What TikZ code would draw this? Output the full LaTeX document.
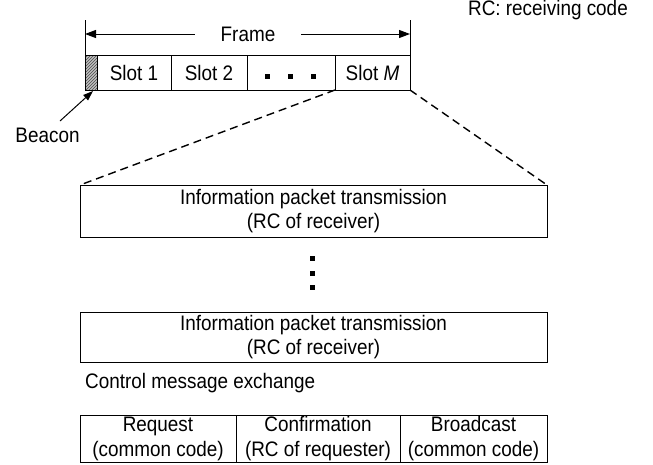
\documentclass[tikz,border=0pt]{standalone}
\usepackage{fontspec}
\setmainfont[FakeStretch=0.9]{Liberation Sans}
\usetikzlibrary{arrows.meta,patterns}
\begin{document}
\begin{tikzpicture}[x=1pt,y=-1pt,
  every node/.style={font=\fontsize{21}{24}\selectfont},
  cell/.style={draw,line width=1pt,inner sep=0pt,outer sep=0pt,minimum height=35pt},
  bigbox/.style={draw,line width=1pt,inner sep=0pt,outer sep=0pt,align=center,minimum width=467pt},
  tabcell/.style={draw,line width=1pt,inner sep=0pt,outer sep=0pt,align=center,minimum height=47pt,font=\fontsize{21}{25}\selectfont},
  dotsq/.style={fill=black,inner sep=0pt,minimum size=5pt},
  tick/.style={line width=1pt},
  dimarrow/.style={line width=1pt,-{Triangle[length=11pt,width=8pt]}},
  zoomline/.style={line width=1.4pt,dash pattern=on 8pt off 5pt}
]
\useasboundingbox (0,0) rectangle (653,464);

% frame bar
\node[cell,minimum width=12pt,pattern=north east lines,pattern color=black!70,preaction={fill=black!25}] (beacon) at (91,72.5) {};
\node[cell,minimum width=74pt] (s1) at (134,72.5) {Slot 1};
\node[cell,minimum width=76pt] (s2) at (209,72.5) {Slot 2};
\node[cell,minimum width=88pt] (sd) at (291,72.5) {};
\node[cell,minimum width=75pt] (sm) at (372.5,72.5) {Slot \textit{M}};
\node[dotsq] (d1) at (267,76) {};
\node[dotsq] (d2) at (290,76) {};
\node[dotsq] (d3) at (313,76) {};

% frame dimension
\coordinate (tl) at (85,20);
\coordinate (tr) at (410,20);
\draw[tick] (tl) -- (beacon.north west);
\draw[tick] (tr) -- (sm.north east);
\node[inner sep=0pt,minimum width=106pt] (frame) at (248,34) {Frame};
\coordinate (al) at (85,34);
\coordinate (ar) at (410,34);
\draw[dimarrow] (frame.west) -- (al);
\draw[dimarrow] (frame.east) -- (ar);

% beacon label
\node[inner sep=0pt] (blab) at (47.5,135) {Beacon};
\coordinate (btip) at (93,91);
\coordinate (btail) at (60,121);
\draw[line width=1pt,-{Triangle[length=10pt,width=7pt]}] (btail) -- (btip);

% RC label
\node[inner sep=0pt,anchor=east] (rc) at (628,10) {RC: receiving code};

% information boxes
\node[bigbox,minimum height=52pt] (ib1) at (313.5,211) {Information packet transmission\\(RC of receiver)};
\node[bigbox,minimum height=50pt] (ib2) at (313.5,337) {Information packet transmission\\(RC of receiver)};
\draw[zoomline] (sd.south east) -- (ib1.north west);
\draw[zoomline] (sm.south east) -- (ib1.north east);

\node[dotsq] (v1) at (312,258) {};
\node[dotsq] (v2) at (312,273) {};
\node[dotsq] (v3) at (312,287) {};

% control message exchange
\node[inner sep=0pt,anchor=west] (cme) at (85,383) {Control message exchange};
\node[tabcell,minimum width=156pt] (req) at (158,438.5) {Request\\(common code)};
\node[tabcell,minimum width=164pt] (conf) at (318,438.5) {Confirmation\\(RC of requester)};
\node[tabcell,minimum width=147pt] (bc) at (473.5,438.5) {Broadcast\\(common code)};
\end{tikzpicture}
\end{document}
